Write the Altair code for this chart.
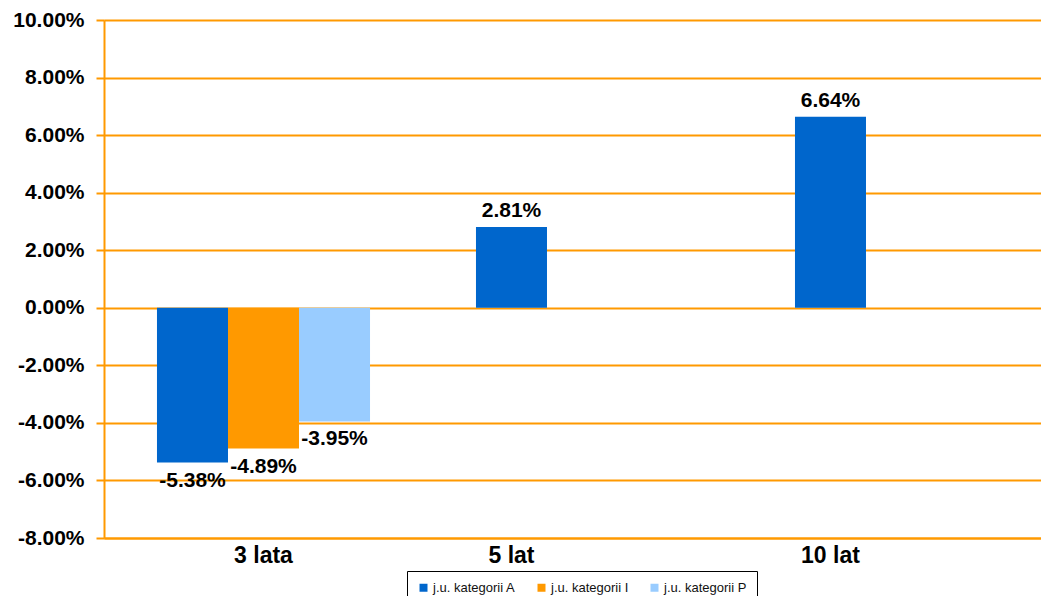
import altair as alt
import pandas as pd

categories = ["3 lata", "5 lat", "10 lat"]
series = ["j.u. kategorii A", "j.u. kategorii I", "j.u. kategorii P"]
values_A = [-5.38, 2.81, 6.64]
values_I = [-4.89, None, None]
values_P = [-3.95, None, None]
label_anchor = ["j.u. kategorii I", "j.u. kategorii A", "j.u. kategorii A"]
colors = ["#0066CC", "#FF9900", "#99CCFF"]
y_ticks = [-0.08, -0.06, -0.04, -0.02, 0.0, 0.02, 0.04, 0.06, 0.08, 0.10]

rows = []
for s, vals in zip(series, [values_A, values_I, values_P]):
    for c, v in zip(categories, vals):
        if v is not None:
            rows.append({"cat": c, "series": s, "value": v / 100.0})
df = pd.DataFrame(rows)
df_cat = pd.DataFrame({"cat": categories, "series": label_anchor})

FONT = "Liberation Sans"
W, H = 937, 518
PCT = "replace(format(datum.value, '.2%'), '\u2212', '-')"

x_enc = alt.X("cat:N", sort=categories,
              scale=alt.Scale(domain=categories, paddingInner=0, paddingOuter=0,
                              range=[0, 957]),
              axis=alt.Axis(labels=False, ticks=False, title=None,
                            domainColor="#FF9900", domainWidth=2))
xo_enc = alt.XOffset("series:N", sort=series,
                     scale=alt.Scale(domain=series, paddingInner=0, paddingOuter=0.746))
y_scale = alt.Scale(domain=[-0.08, 0.10], nice=False, zero=False)

bars = alt.Chart(df).mark_bar().encode(
    x=x_enc,
    xOffset=xo_enc,
    y=alt.Y("value:Q", scale=y_scale,
            axis=alt.Axis(values=y_ticks, labelExpr=PCT, title=None,
                          labelFont=FONT, labelFontSize=21, labelFontWeight="bold",
                          labelColor="black", labelPadding=12,
                          tickColor="#FF9900", tickWidth=2, tickSize=8,
                          domainColor="#FF9900", domainWidth=2,
                          grid=True, gridColor="#FF9900", gridWidth=2)),
    y2=alt.datum(0),
    color=alt.Color("series:N", sort=series,
                    scale=alt.Scale(domain=series, range=colors),
                    legend=alt.Legend(title=None, orient="none", legendX=303, legendY=551,
                                      direction="horizontal", strokeColor="black",
                                      fillColor="white", padding=10,
                                      symbolType="square", symbolSize=64,
                                      symbolStrokeWidth=0,
                                      labelFont=FONT, labelFontSize=13,
                                      labelColor="#111111", labelOffset=3,
                                      columnPadding=19)),
)

base_text = alt.Chart(df).transform_calculate(label=PCT)

pos_text = base_text.transform_filter("datum.value >= 0").mark_text(
    font=FONT, fontSize=21, fontWeight="bold", color="black",
    baseline="alphabetic", dy=-10,
).encode(x=x_enc, xOffset=xo_enc, y=alt.Y("value:Q", scale=y_scale),
         text="label:N")

neg_text = base_text.transform_filter("datum.value < 0").mark_text(
    font=FONT, fontSize=21, fontWeight="bold", color="black",
    baseline="top", dy=7,
).encode(x=x_enc, xOffset=xo_enc, y=alt.Y("value:Q", scale=y_scale),
         text="label:N")

cat_text = alt.Chart(df_cat).mark_text(
    font=FONT, fontSize=23, fontWeight="bold", color="black", baseline="alphabetic",
).encode(x=x_enc, xOffset=xo_enc, y=alt.value(H + 25), text="cat:N")

chart = alt.layer(bars, pos_text, neg_text, cat_text).properties(
    width=W, height=H,
    autosize=alt.AutoSizeParams(type="none"),
    padding={"left": 96, "top": 12, "right": 0, "bottom": 58},
).configure_view(stroke=None).configure(background="white")

chart.save("out.html", embed_options={"renderer": "svg", "actions": False})
